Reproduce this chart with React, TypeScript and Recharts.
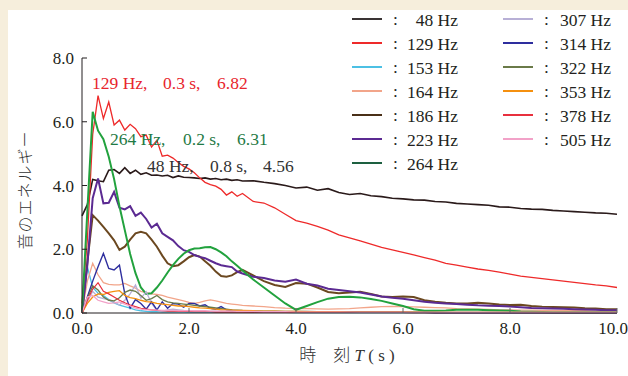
import { LineChart, Line, XAxis, YAxis } from 'recharts';

// sample times (s): 0.1 s steps up to 3 s, then 0.2 s steps
const times = [
  0, 0.1, 0.2, 0.3, 0.4, 0.5, 0.6, 0.7, 0.8, 0.9, 1.0, 1.1, 1.2, 1.3, 1.4, 1.5, 1.6, 1.7, 1.8, 1.9, 2.0,
  2.1, 2.2, 2.3, 2.4, 2.5, 2.6, 2.7, 2.8, 2.9, 3.0,
  3.2, 3.4, 3.6, 3.8, 4.0, 4.2, 4.4, 4.6, 4.8, 5.0, 5.2, 5.4, 5.6, 5.8, 6.0, 6.2, 6.4, 6.6, 6.8, 7.0,
  7.2, 7.4, 7.6, 7.8, 8.0, 8.2, 8.4, 8.6, 8.8, 9.0, 9.2, 9.4, 9.6, 9.8, 10.0
];

const hz48 = [
  3.05, 3.4, 4.19, 4.15, 4.12, 4.48, 4.5, 4.38, 4.56, 4.38, 4.48, 4.35, 4.4, 4.32, 4.33, 4.3, 4.32, 4.25, 4.3, 4.26,
  4.25, 4.24, 4.22, 4.24, 4.2, 4.22, 4.18, 4.2, 4.16, 4.18, 4.14,
  4.15, 4.1, 4.06, 4.0, 3.92, 3.95, 3.85, 3.9, 3.78, 3.72, 3.75, 3.68, 3.65, 3.6, 3.58, 3.55, 3.54, 3.5, 3.48, 3.44,
  3.42, 3.4, 3.38, 3.33, 3.32, 3.28, 3.26, 3.25, 3.22, 3.2, 3.18, 3.16, 3.14, 3.13, 3.1
];
const hz129 = [
  0.3, 2.3, 5.6, 6.82, 6.1, 6.62, 5.9, 6.05, 5.74, 5.92, 5.78, 5.53, 5.58, 5.21, 5.42, 4.92, 4.95, 4.86, 4.72, 4.6,
  4.52, 4.4, 4.24, 4.1, 4.03, 3.98, 3.88, 3.7, 3.8, 3.66, 3.75,
  3.5, 3.45, 3.3, 3.1, 2.9, 2.82, 2.72, 2.6, 2.45, 2.36, 2.26, 2.16, 2.06, 1.98, 1.9, 1.82, 1.74, 1.66, 1.56, 1.5,
  1.44, 1.38, 1.34, 1.28, 1.22, 1.16, 1.12, 1.08, 1.04, 1.0, 0.96, 0.92, 0.88, 0.85, 0.8
];
const hz153 = [
  0, 1.45, 0.8, 0.62, 0.55, 0.42, 0.32, 0.25, 0.2, 0.15, 0.1, 0.07, 0.05, 0.04, 0.04, 0.03, 0.03, 0.03, 0.03, 0.03,
  0.02, 0.02, 0.02, 0.02, 0.02, 0.02, 0.02, 0.02, 0.02, 0.02, 0.02,
  0.02, 0.02, 0.02, 0.02, 0.01, 0.01, 0.01, 0.01, 0.01, 0.01, 0.01, 0.01, 0.01, 0.01, 0.01, 0.01, 0.01, 0.01, 0.01, 0.01,
  0.01, 0.01, 0.01, 0.01, 0.01, 0.01, 0.01, 0.01, 0.01, 0.01, 0.01, 0.01, 0.01, 0.01, 0.01
];
const hz164 = [
  0, 1.0, 1.56, 1.2, 0.95, 0.9, 0.88, 0.88, 0.93, 0.85, 0.78, 0.68, 0.64, 0.6, 0.58, 0.55, 0.5, 0.46, 0.42, 0.38,
  0.33, 0.3, 0.33, 0.38, 0.41, 0.38, 0.34, 0.3, 0.28, 0.26, 0.24,
  0.22, 0.2, 0.17, 0.15, 0.14, 0.14, 0.13, 0.12, 0.13, 0.14, 0.16, 0.18, 0.2, 0.21, 0.2, 0.19, 0.18, 0.17, 0.16, 0.14,
  0.13, 0.12, 0.11, 0.1, 0.1, 0.09, 0.09, 0.08, 0.08, 0.07, 0.07, 0.07, 0.06, 0.06, 0.06
];
const hz186 = [
  0, 1.6, 3.07, 2.9, 2.7, 2.5, 2.28, 1.98, 2.08, 2.3, 2.5, 2.55, 2.5, 2.3, 2.08, 1.8, 1.56, 1.47, 1.5, 1.62,
  1.75, 1.82, 1.77, 1.62, 1.48, 1.3, 1.16, 1.14, 1.18, 1.28, 1.35,
  1.18, 1.0, 0.88, 0.82, 0.94, 0.92, 0.8, 0.66, 0.62, 0.64, 0.67, 0.6, 0.52, 0.5, 0.52, 0.5, 0.4, 0.35, 0.32, 0.3,
  0.3, 0.32, 0.3, 0.27, 0.25, 0.26, 0.22, 0.2, 0.19, 0.18, 0.17, 0.15, 0.14, 0.12, 0.12
];
const hz223 = [
  0, 1.5, 3.6, 4.22, 3.44, 3.46, 3.8, 3.3, 3.25, 3.35, 3.05, 3.15, 2.95, 2.68, 2.8, 2.5, 2.39, 2.28, 2.1, 1.97,
  1.92, 1.82, 1.76, 1.72, 1.64, 1.56, 1.5, 1.47, 1.44, 1.3, 1.24,
  1.14, 1.1, 1.02, 0.98, 1.05, 0.92, 0.86, 0.76, 0.72, 0.68, 0.64, 0.58, 0.52, 0.48, 0.45, 0.4, 0.35, 0.32, 0.3, 0.28,
  0.26, 0.24, 0.23, 0.22, 0.2, 0.18, 0.16, 0.15, 0.14, 0.13, 0.12, 0.11, 0.1, 0.09, 0.09
];
const hz264 = [
  0, 3.2, 6.31, 5.72, 5.45, 4.9, 4.2, 3.35, 2.6, 1.85, 1.25, 0.8, 0.6, 0.62, 0.8, 1.02, 1.27, 1.5, 1.7, 1.86,
  1.97, 2.02, 2.03, 2.06, 2.07, 2.0, 1.9, 1.78, 1.62, 1.48, 1.33,
  1.05, 0.8, 0.55, 0.3, 0.1, 0.22, 0.34, 0.45, 0.5, 0.51, 0.49, 0.44, 0.38, 0.3, 0.22, 0.12, 0.07, 0.07, 0.08, 0.1,
  0.1, 0.1, 0.09, 0.08, 0.07, 0.05, 0.04, 0.03, 0.02, 0.02, 0.02, 0.02, 0.02, 0.02, 0.02
];
const hz307 = [
  0, 0.35, 0.68, 0.5, 0.45, 0.42, 0.35, 0.25, 0.4, 0.6, 0.88, 0.46, 0.67, 0.3, 0.08, 0.05, 0.1, 0.12, 0.1, 0.08,
  0.07, 0.06, 0.06, 0.05, 0.05, 0.05, 0.05, 0.04, 0.04, 0.04, 0.04,
  0.04, 0.04, 0.03, 0.03, 0.03, 0.03, 0.03, 0.03, 0.03, 0.03, 0.02, 0.02, 0.02, 0.02, 0.02, 0.02, 0.02, 0.02, 0.02, 0.02,
  0.02, 0.02, 0.02, 0.02, 0.02, 0.02, 0.02, 0.02, 0.02, 0.02, 0.02, 0.02, 0.02, 0.02, 0.02
];
const hz314 = [
  0, 0.5, 1.0, 1.45, 1.87, 1.4, 1.35, 1.5, 0.6, 0.15, 0.42, 0.3, 0.12, 0.35, 0.1, 0.35, 0.15, 0.3, 0.28, 0.18,
  0.3, 0.3, 0.22, 0.26, 0.15, 0.12, 0.2, 0.1, 0.08, 0.06, 0.05,
  0.04, 0.04, 0.03, 0.03, 0.03, 0.03, 0.02, 0.02, 0.02, 0.02, 0.02, 0.02, 0.02, 0.02, 0.02, 0.02, 0.02, 0.01, 0.01, 0.01,
  0.01, 0.01, 0.01, 0.01, 0.01, 0.01, 0.01, 0.01, 0.01, 0.01, 0.01, 0.01, 0.01, 0.01, 0.01
];
const hz322 = [
  0, 0.45, 0.85, 0.72, 0.5, 0.4, 0.38, 0.48, 0.65, 0.72, 0.68, 0.55, 0.4, 0.45, 0.55, 0.42, 0.35, 0.32, 0.3, 0.28,
  0.26, 0.24, 0.22, 0.2, 0.18, 0.16, 0.14, 0.12, 0.1, 0.09, 0.08,
  0.07, 0.06, 0.06, 0.05, 0.05, 0.05, 0.04, 0.04, 0.04, 0.04, 0.03, 0.03, 0.03, 0.03, 0.03, 0.03, 0.03, 0.03, 0.02, 0.02,
  0.02, 0.02, 0.02, 0.02, 0.02, 0.02, 0.02, 0.02, 0.02, 0.02, 0.02, 0.02, 0.02, 0.02, 0.02
];
const hz353 = [
  0, 0.3, 0.5, 0.6, 0.58, 0.65, 0.68, 0.7, 0.55, 0.48, 0.45, 0.4, 0.36, 0.34, 0.3, 0.28, 0.26, 0.24, 0.22, 0.22,
  0.2, 0.18, 0.16, 0.15, 0.14, 0.12, 0.1, 0.1, 0.09, 0.08, 0.08,
  0.07, 0.06, 0.06, 0.05, 0.05, 0.04, 0.04, 0.04, 0.04, 0.03, 0.03, 0.03, 0.03, 0.03, 0.03, 0.03, 0.02, 0.02, 0.02, 0.02,
  0.02, 0.02, 0.02, 0.02, 0.02, 0.02, 0.02, 0.02, 0.02, 0.02, 0.02, 0.02, 0.02, 0.02, 0.02
];
const hz378 = [
  0, 0.4, 0.75, 0.95, 0.68, 0.6, 0.5, 0.4, 0.32, 0.25, 0.2, 0.15, 0.12, 0.1, 0.08, 0.07, 0.06, 0.06, 0.05, 0.05,
  0.05, 0.04, 0.04, 0.04, 0.04, 0.03, 0.03, 0.03, 0.03, 0.03, 0.03,
  0.03, 0.03, 0.03, 0.02, 0.02, 0.02, 0.02, 0.02, 0.02, 0.02, 0.02, 0.02, 0.02, 0.02, 0.02, 0.01, 0.01, 0.01, 0.01, 0.01,
  0.01, 0.01, 0.01, 0.01, 0.01, 0.01, 0.01, 0.01, 0.01, 0.01, 0.01, 0.01, 0.01, 0.01, 0.01
];
const hz505 = [
  0, 0.5, 0.55, 0.4, 0.35, 0.3, 0.32, 0.35, 0.28, 0.22, 0.15, 0.12, 0.1, 0.1, 0.09, 0.08, 0.08, 0.08, 0.07, 0.07,
  0.07, 0.07, 0.07, 0.07, 0.06, 0.06, 0.06, 0.06, 0.06, 0.05, 0.05,
  0.05, 0.04, 0.04, 0.04, 0.03, 0.03, 0.03, 0.03, 0.03, 0.03, 0.02, 0.02, 0.02, 0.02, 0.02, 0.02, 0.02, 0.02, 0.02, 0.02,
  0.02, 0.02, 0.02, 0.02, 0.02, 0.02, 0.02, 0.02, 0.02, 0.02, 0.02, 0.02, 0.02, 0.02, 0.02
];

const xTicks = [0, 2, 4, 6, 8, 10];
const yTicks = [0, 2, 4, 6, 8];

// legend columns, in the order they appear
const legendLeft = ['48', '129', '153', '164', '186', '223', '264'];
const legendRight = ['307', '314', '322', '353', '378', '505'];

const series: Record<string, { values: number[]; color: string; legendColor?: string; width: number }> = {
  '153': { values: hz153, color: '#4cc0e4', width: 1.3 },
  '505': { values: hz505, color: '#f2a2c8', width: 1.3 },
  '378': { values: hz378, color: '#e8303e', width: 1.2 },
  '307': { values: hz307, color: '#b8b0d6', width: 1.3 },
  '322': { values: hz322, color: '#6a7a48', width: 1.3 },
  '353': { values: hz353, color: '#f5900f', width: 1.3 },
  '164': { values: hz164, color: '#f2a58a', width: 1.3 },
  '314': { values: hz314, color: '#2e2e9e', width: 1.4 },
  '186': { values: hz186, color: '#6b4820', legendColor: '#4a3018', width: 2 },
  '223': { values: hz223, color: '#5b2a92', width: 2 },
  '264': { values: hz264, color: '#22a23e', legendColor: '#1d6040', width: 2 },
  '129': { values: hz129, color: '#ee2a2a', width: 1.3 },
  '48': { values: hz48, color: '#2a1a1a', legendColor: '#3a3434', width: 1.6 },
};

const data = times.map((t, i) => {
  const row: Record<string, number> = { t };
  Object.keys(series).forEach((k) => {
    row['f' + k] = series[k].values[i];
  });
  return row;
});

const serif = '"Liberation Serif", "Times New Roman", serif';
const ink = '#231f20';
const textSize = 17.5;

const annotations = [
  { parts: ['129 Hz,', '0.3 s,', '6.82'], lefts: [92, 163, 217], baseline: 90, color: '#e8252d' },
  { parts: ['264 Hz,', '0.2 s,', '6.31'], lefts: [110, 183, 237], baseline: 146, color: '#1f7a45' },
  { parts: ['48 Hz,', '0.8 s,', '4.56'], lefts: [147, 210, 263], baseline: 173, color: '#333333' },
];

const LegendColumn = ({ keys, x, textRight }: { keys: string[]; x: number; textRight: number }) => (
  <>
    {keys.map((k, i) => {
      const cy = 19 + i * 24;
      const s = series[k];
      return (
        <div key={k}>
          <div
            style={{
              position: 'absolute', left: x, top: cy - 1, width: 30, height: 2,
              background: s.legendColor || s.color,
            }}
          />
          <div style={{ position: 'absolute', left: x + 41, top: cy - 8, fontSize: textSize, lineHeight: 1 }}>:</div>
          <div
            style={{
              position: 'absolute', left: textRight - 70, width: 70, top: cy - 7, textAlign: 'right',
              fontSize: textSize, lineHeight: 1, whiteSpace: 'nowrap',
            }}
          >
            {k} Hz
          </div>
        </div>
      );
    })}
  </>
);

const App = () => {
  return (
    <div
      style={{
        position: 'absolute', left: 0, top: 0, width: 628, height: 376, background: '#f6eedc',
        overflow: 'hidden', fontFamily: serif, color: ink,
      }}
    >
      <div style={{ position: 'absolute', left: 8, top: 10, right: 0, bottom: 0, background: '#ffffff' }} />
      <div style={{ position: 'absolute', left: 0, top: 0 }}>
        <LineChart width={628} height={376} data={data} margin={{ top: 58, right: 11, bottom: 33, left: 0 }}>
          <XAxis
            dataKey="t"
            type="number"
            domain={[0, 10]}
            ticks={xTicks}
            tickFormatter={(v: number) => v.toFixed(1)}
            height={30}
            tickSize={-5}
            tickMargin={14}
            stroke={ink}
            tick={{ fill: ink, fontSize: 17, fontFamily: serif }}
            axisLine={{ stroke: ink }}
            tickLine={{ stroke: '#666' }}
          />
          <YAxis
            type="number"
            domain={[0, 8]}
            ticks={yTicks}
            tickFormatter={(v: number) => v.toFixed(1)}
            width={82}
            tickSize={-5}
            tickMargin={13}
            stroke={ink}
            tick={{ fill: ink, fontSize: 17, fontFamily: serif }}
            axisLine={{ stroke: ink }}
            tickLine={{ stroke: ink }}
          />
          {Object.keys(series).map((k) => (
            <Line
              key={k}
              type="linear"
              dataKey={'f' + k}
              stroke={series[k].color}
              strokeWidth={series[k].width}
              dot={false}
              isAnimationActive={false}
            />
          ))}
        </LineChart>
      </div>

      {annotations.map((a, i) =>
        a.parts.map((p, j) => (
          <div
            key={i + '-' + j}
            style={{
              position: 'absolute', left: a.lefts[j], top: a.baseline - 14.7, fontSize: textSize,
              lineHeight: 1, color: a.color, whiteSpace: 'nowrap',
            }}
          >
            {p}
          </div>
        ))
      )}

      <LegendColumn keys={legendLeft} x={352} textRight={458} />
      <LegendColumn keys={legendRight} x={503} textRight={611} />

      <div
        style={{
          position: 'absolute', left: 24 - 70, top: 190 - 9, width: 140, height: 18, textAlign: 'center',
          transform: 'rotate(-90deg)', fontFamily: '"Noto Sans CJK JP", sans-serif', fontSize: 16,
          letterSpacing: 1, lineHeight: '18px', fontWeight: 300, color: '#333',
        }}
      >
        音のエネルギー
      </div>
      <div
        style={{
          position: 'absolute', left: 247, width: 200, top: 345, textAlign: 'center', fontSize: 17,
          lineHeight: '18px', whiteSpace: 'nowrap', color: '#333',
        }}
      >
        <span style={{ fontFamily: '"Noto Sans CJK JP", sans-serif', fontWeight: 300 }}>時　刻</span>{' '}
        <i>T</i> ( s )
      </div>
    </div>
  );
};

export default App;
